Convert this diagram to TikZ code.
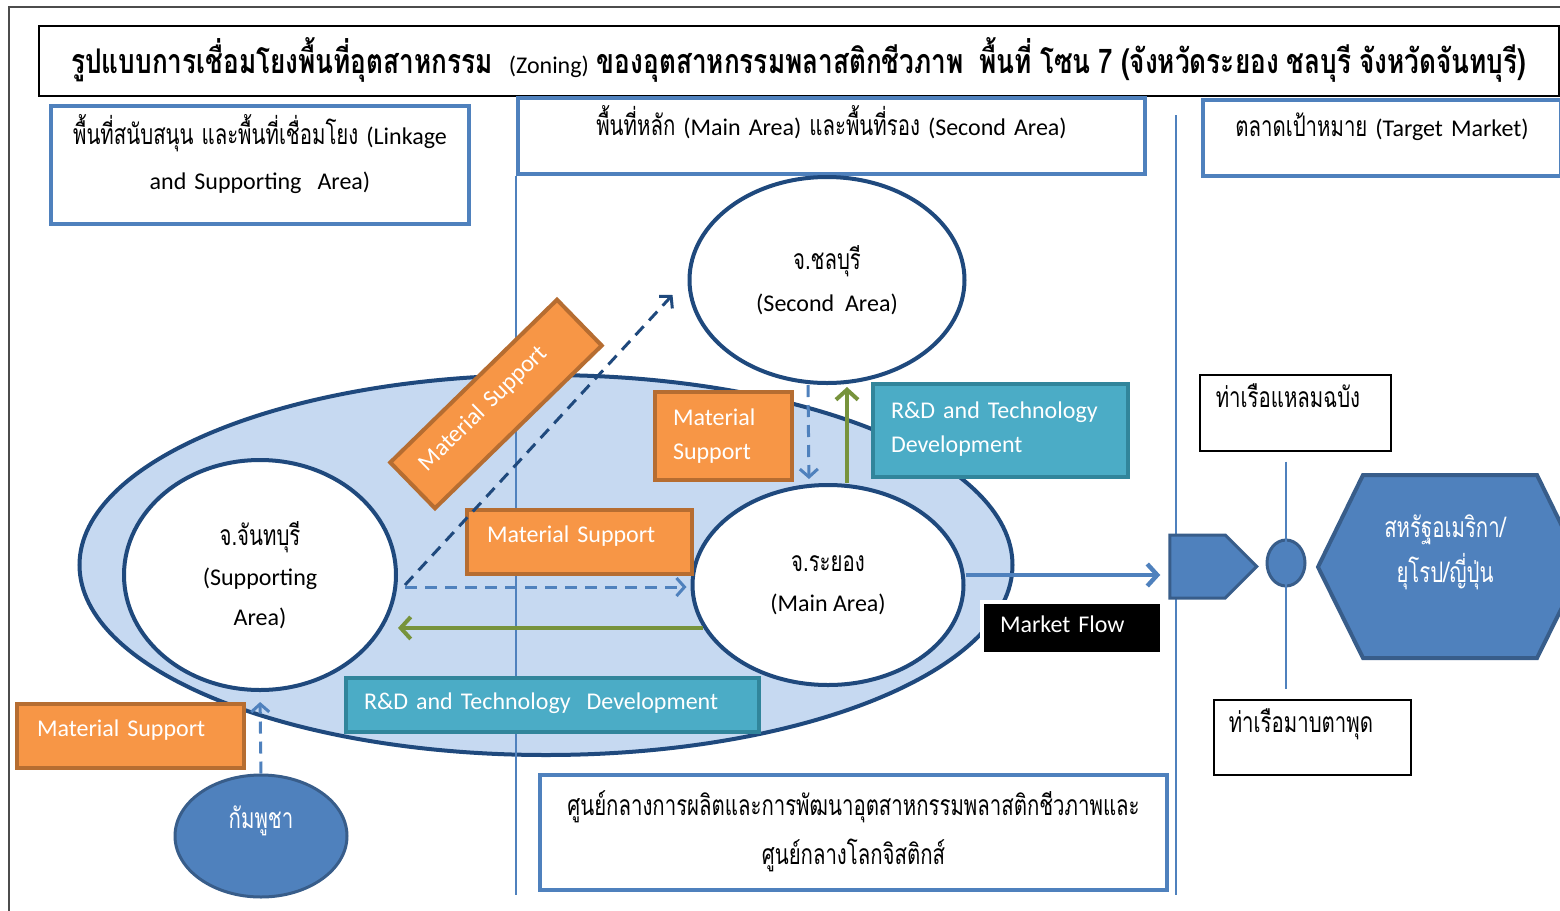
\documentclass[tikz,border=0pt]{standalone}
\usepackage{fontspec}
\setmainfont{Carlito}
\newfontfamily\thai[Script=Thai,Scale=1.18,FakeStretch=0.72]{Loma}
\newfontfamily\thaititle[Script=Thai,FakeStretch=0.77]{Loma}
\usetikzlibrary{shapes.geometric,shapes.symbols,arrows.meta,shadows}
\definecolor{hdrblue}{RGB}{79,129,189}
\definecolor{rimblue}{RGB}{31,73,125}
\definecolor{zonefill}{RGB}{198,217,241}
\definecolor{deeprim}{RGB}{56,93,138}
\definecolor{matfill}{RGB}{247,150,70}
\definecolor{matrim}{RGB}{182,109,49}
\definecolor{techfill}{RGB}{75,172,198}
\definecolor{techrim}{RGB}{49,133,155}
\definecolor{rdgreen}{RGB}{119,147,60}
\tikzset{
  txt/.style={font=\fontsize{12}{#1}\selectfont},
  txt/.default=15,
  hdrbox/.style={draw=hdrblue, line width=2pt, fill=white, anchor=north west, inner ysep=0pt, inner xsep=0pt, align=center},
  portbox/.style={draw=black, line width=0.8pt, fill=white, anchor=north west, inner ysep=0pt, inner xsep=8pt, align=left},
  matbox/.style={draw=matrim, fill=matfill, line width=2pt, text=white, inner ysep=0pt, inner xsep=10pt, align=left},
  techbox/.style={draw=techrim, fill=techfill, line width=2pt, text=white, anchor=north west, inner ysep=0pt, inner xsep=9pt, align=left},
  prov/.style={ellipse, draw=rimblue, line width=2pt, fill=white, align=center, inner sep=0pt},
  dashflow/.style={dash pattern=on 6pt off 4pt, line width=1.5pt, -{Straight Barb[length=4pt,width=9pt]}},
  greenflow/.style={draw=rdgreen, line width=2pt, -{Straight Barb[length=5pt,width=11pt]}},
}
\begin{document}
\begin{tikzpicture}[x=0.5pt,y=-0.5pt,txt]
\useasboundingbox (0,0) rectangle (1560,911);
\clip (0,0) rectangle (1560,911);
\fill[white] (0,0) rectangle (1560,911);
\draw[line width=0.8pt, black!70] (9,7) rectangle (1600,960);

\node (title) at (38,25) [draw, line width=0.8pt, anchor=north west, inner sep=0pt, text width=760pt, text height=24pt, text depth=11pt, align=center]
  {{\thaititle\bfseries\fontsize{17}{20}\selectfont รูปแบบการเชื่อมโยงพื้นที่อุตสาหกรรม}~ (Zoning) {\thaititle\bfseries\fontsize{17}{20}\selectfont ของอุตสาหกรรมพลาสติกชีวภาพ~ พื้นที่ โซน 7 (จังหวัดระยอง ชลบุรี จังหวัดจันทบุรี)}};

\node (linkhdr) at (49,104) [hdrbox, txt=22.5, text width=209pt, text height=19pt, text depth=40pt]
  {{\thai พื้นที่สนับสนุน และพื้นที่เชื่อมโยง} (Linkage\\and Supporting~ Area)};
\node (midhdr) at (516,96) [hdrbox, text width=313.5pt, text height=18.5pt, text depth=19.5pt]
  {{\thai พื้นที่หลัก} (Main Area) {\thai และพื้นที่รอง} (Second Area)};
\node (markethdr) at (1201,98) [hdrbox, text width=179pt, text height=18pt, text depth=20pt]
  {{\thai ตลาดเป้าหมาย} (Target Market)};
\node (hubbox) at (538,773) [hdrbox, txt=24.5, text width=313.5pt, text height=20pt, text depth=37.5pt]
  {{\thai ศูนย์กลางการผลิตและการพัฒนาอุตสาหกรรมพลาสติกชีวภาพและ}\\{\thai ศูนย์กลางโลกจิสติกส์}};

\node (zone) at (546,565) [prov, fill=zonefill, minimum width=466.5pt, minimum height=190pt] {};
\draw[hdrblue, line width=0.8pt] (midhdr.south west) -- (516,895);
\draw[hdrblue, line width=0.8pt] (1176,115) -- (1176,895);

\node (chanta) at (260,575) [prov, txt=20, minimum width=136pt, minimum height=115pt]
  {{\thai จ.จันทบุรี}\\(Supporting\\Area)};
\node (chon) at (827,280) [prov, txt=21, minimum width=137.5pt, minimum height=103pt]
  {{\thai จ.ชลบุรี}\\(Second~ Area)};
\node (rayong) at (828,585) [prov, txt=20, minimum width=135.5pt, minimum height=100pt]
  {{\thai จ.ระยอง}\\(Main Area)};
\node (kampu) at (261,836) [ellipse, draw=deeprim, fill=hdrblue, line width=1.5pt, text=white, inner sep=0pt, text height=6pt, text depth=14pt, minimum width=86pt, minimum height=61pt]
  {\thai กัมพูชา};

\node (mat1) at (496,404) [matbox, rotate=44.3, text width=96.5pt, text height=16.5pt, text depth=15.5pt] {Material Support};
\node (mat2) at (465,508) [matbox, anchor=north west, text width=92.5pt, text height=16pt, text depth=16pt] {Material Support};
\node (mat3) at (653,390) [matbox, anchor=north west, txt=17, inner xsep=9pt, text width=50.5pt, text height=16.5pt, text depth=27.5pt] {Material\\Support};
\node (mat4) at (15,702) [matbox, anchor=north west, text width=93.5pt, text height=16pt, text depth=16pt] {Material Support};

\node (tech1) at (871,382) [techbox, txt=17, text width=109.5pt, text height=17pt, text depth=29.5pt] {R\&D and Technology\\Development};
\node (tech2) at (344,676) [techbox, text width=188.5pt, text height=15.5pt, text depth=11.5pt] {R\&D and Technology~ Development};

\node (mktflow) at (980,600) [anchor=north west, fill=black, draw=white, line width=2pt, text=white, drop shadow={shadow xshift=1pt, shadow yshift=-1pt, fill=black!30}, inner ysep=0pt, inner xsep=9pt, text width=72pt, text height=15pt, text depth=11pt] {Market Flow};

\node (flowtip) at (1197.5,566.5) [signal, signal to=east, signal pointer angle=90, draw=deeprim, fill=hdrblue, line width=1.5pt, inner sep=0pt, minimum width=43.5pt, minimum height=31.5pt] {};
\node (port) at (1286,563) [ellipse, draw=deeprim, fill=hdrblue, line width=1.5pt, inner sep=0pt, minimum width=19pt, minimum height=23pt] {};
\node (laem) at (1199,374) [portbox, text width=79.5pt, text height=16.5pt, text depth=21.5pt] {\thai ท่าเรือแหลมฉบัง};
\node (mabta) at (1213,699) [portbox, inner xsep=7.5pt, text width=83.5pt, text height=16.5pt, text depth=21pt] {\thai ท่าเรือมาบตาพุด};
\draw[hdrblue, line width=1pt, shorten <=5pt, shorten >=5pt] (port.center |- laem.south) -- (port.center |- mabta.north);

\draw[deeprim, fill=hdrblue, line width=2pt] (1318,567) -- (1363,475) -- (1537,475) -- (1582,567) -- (1537,658) -- (1363,658) -- cycle;
\node (usa) at (1445,552) [txt=22.5, text=white, align=center] {{\thai สหรัฐอเมริกา/}\\{\thai ยุโรป/ญี่ปุ่น}};

\draw[dashflow, rimblue] ([xshift=3.5pt,yshift=-5pt]chanta.east) -- ([xshift=-7.5pt,yshift=-7.5pt]chon.west);
\draw[dashflow, hdrblue] ([xshift=3.5pt,yshift=-6pt]chanta.east) -- ([xshift=-2pt,yshift=-1pt]rayong.west);
\draw[greenflow] (rayong.199) -- (rayong.199 -| chanta.east);
\draw[greenflow, shorten >=1pt] ([xshift=9.5pt]rayong.north) -- ([xshift=10pt]chon.south);
\draw[dashflow, hdrblue, shorten >=2pt] ([xshift=-9.5pt]chon.south) -- ([xshift=-9.5pt]rayong.north);
\draw[dashflow, hdrblue, shorten >=5pt] (kampu.north) -- (chanta.south);
\coordinate (mktend) at ([xshift=-4pt,yshift=-4.25pt]flowtip.west);
\draw[hdrblue, line width=2.2pt, -{Straight Barb[length=5pt,width=11pt]}] ([yshift=5pt]rayong.east) -- (mktend);
\end{tikzpicture}
\end{document}
